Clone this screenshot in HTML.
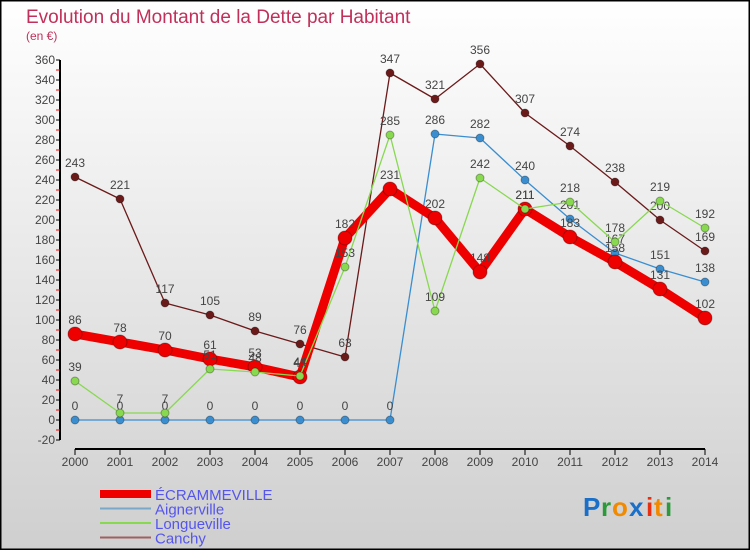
<!DOCTYPE html>
<html><head><meta charset="utf-8"><style>
body{margin:0;width:750px;height:550px;overflow:hidden;font-family:"Liberation Sans","DejaVu Sans",sans-serif}
</style></head><body>
<svg id="chart" width="750" height="550" xmlns="http://www.w3.org/2000/svg">
<defs><linearGradient id="bg" x1="0" y1="0" x2="0" y2="1"><stop offset="0" stop-color="#ffffff"/><stop offset="1" stop-color="#cfcfcf"/></linearGradient></defs>
<rect x="0.5" y="0.5" width="749" height="549" fill="url(#bg)" stroke="#000" stroke-width="2"/>
<text x="26" y="23" font-size="19" fill="#c0305a">Evolution du Montant de la Dette par Habitant</text>
<text x="26" y="40" font-size="12" fill="#c0305a">(en €)</text>
<g id="axes"></g><g id="series"></g><g id="legend"></g>
<g font-size="26" font-weight="bold">
<text x="583" y="516" fill="#1a6fc9">P</text><text x="601" y="516" fill="#2a9a3a">r</text><text x="612" y="516" fill="#f28a00">o</text><text x="629" y="516" fill="#1a6fc9">x</text><text x="646" y="516" fill="#e83010">i</text><text x="654" y="516" fill="#f28a00">t</text><text x="665" y="516" fill="#2a9a3a">i</text></g>
</svg>
<script>
const years=[2000,2001,2002,2003,2004,2005,2006,2007,2008,2009,2010,2011,2012,2013,2014];
const ecr=[86,78,70,61,53,43,182,231,202,148,211,183,158,131,102];
const aign=[0,0,0,0,0,0,0,0,286,282,240,201,167,151,138];
const longu=[39,7,7,51,48,44,153,285,109,242,211,218,178,219,192];
const canchy=[243,221,117,105,89,76,63,347,321,356,307,274,238,200,169];
const yTicks=[-20,0,20,40,60,80,100,120,140,160,180,200,220,240,260,280,300,320,340,360];
const NS="http://www.w3.org/2000/svg";
const xS=i=>75+i*45, yS=v=>420-v;
function mk(t,a,p){const e=document.createElementNS(NS,t);for(const k in a)e.setAttribute(k,a[k]);p.appendChild(e);return e;}
const ax=document.getElementById('axes');
const yl=mk('line',{x1:60,y1:60,x2:60,y2:440,stroke:'#000','stroke-width':2},ax);


yTicks.forEach(v=>{
 mk('line',{x1:56,x2:60,y1:yS(v),y2:yS(v),stroke:'#000'},ax);
 if(v<360) mk('line',{x1:56,x2:60,y1:yS(v)-10,y2:yS(v)-10,stroke:'#e00'},ax);
 const t=mk('text',{x:55,y:yS(v)+4,'text-anchor':'end','font-size':12,fill:'#444'},ax);t.textContent=v;
 
 
});
const xl=mk('line',{x1:75,y1:449,x2:705,y2:449,stroke:'#000','stroke-width':2},ax);


years.forEach((y,i)=>{
 mk('line',{x1:xS(i),x2:xS(i),y1:449,y2:455,stroke:'#000'},ax);
 const t=mk('text',{x:xS(i),y:466,'text-anchor':'middle','font-size':12,fill:'#444'},ax);t.textContent=y;
 
 
});
const sg=document.getElementById('series');
function draw(data,color,w,r,name){
 const g=mk('g',{},sg);
 
 
 mk('polyline',{points:data.map((v,i)=>xS(i)+','+yS(v)).join(' '),fill:'none',stroke:color,'stroke-width':w,'stroke-linejoin':'round'},g);
 data.forEach((v,i)=>{
  const c=mk('circle',{cx:xS(i),cy:yS(v),r:r,fill:color,stroke:'rgba(0,0,0,0.3)','stroke-width':1},g);
  
  
  const t=mk('text',{x:xS(i),y:yS(v)-10,'text-anchor':'middle','font-size':12,fill:'#444'},g);t.textContent=v;
  
  
 });
}
draw(canchy,'#6b1a1a',1.3,4,'series-canchy');
draw(aign,'#3a8ed0',1.3,4,'series-aignerville');
draw(ecr,'#ee0000',9,7,'series-ecrammeville');
draw(longu,'#88d850',1.3,4,'series-longueville');
const lg=document.getElementById('legend');
const items=[['ÉCRAMMEVILLE','#ee0000',8],['Aignerville','#7aa8c8',2],['Longueville','#88d850',2],['Canchy','#a06060',2]];
items.forEach((it,k)=>{
 const y=494+k*14.5;
 const g=mk('g',{},lg);
 
 
 mk('line',{x1:100,x2:151,y1:y,y2:y,stroke:it[1],'stroke-width':it[2]},g);
 const t=mk('text',{x:155,y:y+6,'font-size':15,fill:'#5555ee'},g);t.textContent=it[0];
});
</script>
</body></html>
